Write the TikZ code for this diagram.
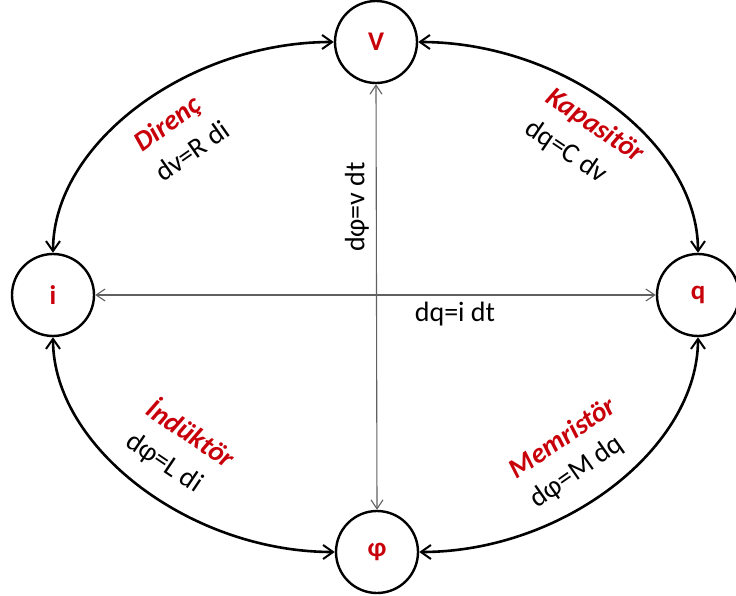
\documentclass[tikz,border=0pt]{standalone}
\usepackage{fontspec}
\setmainfont{Carlito}
\usetikzlibrary{arrows.meta}
\definecolor{lblred}{HTML}{C8000A}
\definecolor{axisgray}{HTML}{606060}
\tikzset{
  circ/.style={draw=black, line width=2.4pt, circle, minimum size=82pt, inner sep=0pt,
    font=\fontsize{27}{27}\selectfont\bfseries, text=lblred},
  curve/.style={line width=2.6pt, {Straight Barb[length=10pt,width=14pt,line width=2pt]}-{Straight Barb[length=10pt,width=14pt,line width=2pt]}},
  axis/.style={line width=1.1pt, draw=axisgray, {Straight Barb[length=9pt,width=12pt]}-{Straight Barb[length=9pt,width=12pt]}},
  elem/.style={font=\fontsize{28}{28}\selectfont\bfseries\itshape, text=lblred, inner sep=0pt},
  eqn/.style={font=\fontsize{28}{28}\selectfont, text=black, inner sep=0pt}
}
\begin{document}
\begin{tikzpicture}[x=1pt,y=-1pt]
\useasboundingbox (0,0) rectangle (736,596);
\node[circ] (V) at (376,42) {V};
\node[circ] (P) at (377,552) {φ};
\node[circ] (I) at (53,295) {i};
\node[circ] (Q) at (698,295) {q};
% axes
\draw[axis] (V.south) -- (P.north);
\draw[axis] (I.east) -- (Q.west);
% curves
\draw[curve] (I.north) .. controls +(0,-110) and +(-145,0) .. (V.west);
\draw[curve] (V.east) .. controls +(145,0) and +(0,-110) .. (Q.north);
\draw[curve] (I.south) .. controls +(0,110) and +(-145,0) .. (P.west);
\draw[curve] (Q.south) .. controls +(0,110) and +(145,0) .. (P.east);
% labels
\node[elem, rotate=36] (dir) at (168,125) {Direnç};
\node[eqn, rotate=35] (dire) at (192,151) {dv=R di};
\node[elem, rotate=-34] (kap) at (595,126) {Kapasitör};
\node[eqn, rotate=-34] (kape) at (566,152) {dq=C dv};
\node[elem, rotate=-34] (ind) at (192,432) {İndüktör};
\node[eqn, rotate=-34] (inde) at (164,463) {dφ=L di};
\node[elem, rotate=34] (mem) at (562,437) {Memristör};
\node[eqn, rotate=35] (meme) at (577,472) {dφ=M dq};
\node[eqn, rotate=90] (vdt) at (357,207) {dφ=v dt};
\node[eqn] (idt) at (455,314) {dq=i dt};
\end{tikzpicture}
\end{document}
